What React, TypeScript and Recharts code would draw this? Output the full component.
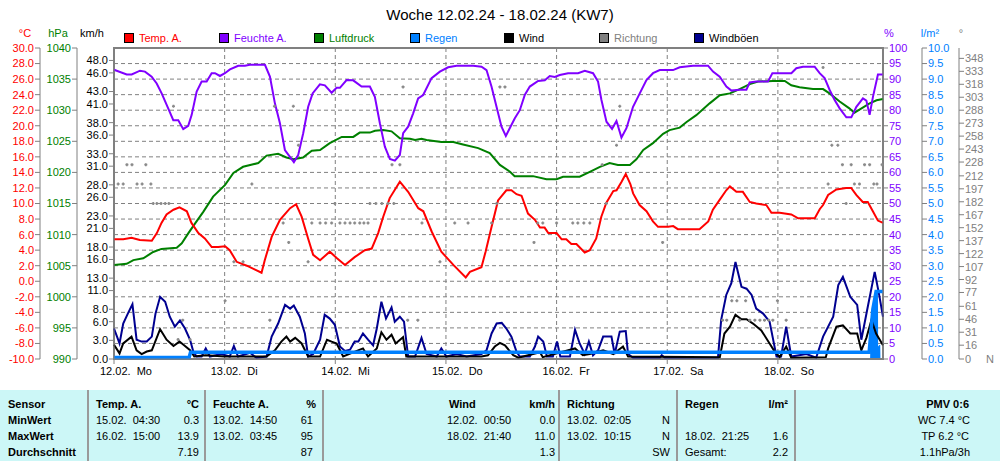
import React from 'react';
import {
  ComposedChart,
  Line,
  Area,
  Scatter,
  XAxis,
  YAxis,
  CartesianGrid,
  ReferenceArea
} from 'recharts';

const FONT = '"Liberation Sans", Arial, sans-serif';
const GRID = '#808080';
const RED = '#ff0000';
const PURPLE = '#8000ff';
const GREEN = '#008000';
const BLUE = '#0080ff';
const NAVY = '#000090';
const GRAY = '#808080';

// x axis: hours since 12.02. 00:00
const dayTicks = [0, 24, 48, 72, 96, 120, 144];
const dayLabels = ['12.02.  Mo', '13.02.  Di', '14.02.  Mi', '15.02.  Do', '16.02.  Fr', '17.02.  Sa', '18.02.  So'];

const tempTicks = [-10, -8, -6, -4, -2, 0, 2, 4, 6, 8, 10, 12, 14, 16, 18, 20, 22, 24, 26, 28, 30];
const presTicks = [990, 995, 1000, 1005, 1010, 1015, 1020, 1025, 1030, 1035, 1040];
const windTicks = [0, 3, 6, 8, 11, 13, 16, 18, 21, 23, 26, 28, 31, 33, 36, 38, 41, 43, 46, 48];
const humTicks = [0, 5, 10, 15, 20, 25, 30, 35, 40, 45, 50, 55, 60, 65, 70, 75, 80, 85, 90, 95, 100];
const rainTicks = [0, 0.5, 1, 1.5, 2, 2.5, 3, 3.5, 4, 4.5, 5, 5.5, 6, 6.5, 7, 7.5, 8, 8.5, 9, 9.5, 10];
const dirTicks = [0, 16, 31, 46, 61, 77, 92, 107, 122, 137, 152, 167, 182, 197, 212, 228, 243, 258, 273, 288, 303, 318, 333, 348];

// Temp. A. (°C)
const tempHours = [0, 2.0, 3.8, 5.6, 8.2, 9.3, 10.3, 11.4, 12.9, 14.2, 15.8, 16.8, 18.3, 19.7, 21.2, 22.6, 24.1, 25.1, 26.6, 28.8, 30.6, 32.0, 32.7, 34.2, 36.0, 38.2, 39.5, 40.7, 42.1, 43.2, 44.7, 46.8, 48.3, 50.1, 52.2, 54.4, 55.9, 57.3, 58.4, 59.8, 62.0, 63.8, 66.0, 67.1, 68.9, 71.0, 73.6, 76.3, 77.2, 79.7, 80.6, 81.9, 83.3, 85.1, 86.2, 87.3, 88.4, 89.8, 91.3, 92.4, 93.4, 94.2, 96.0, 97.1, 98.1, 99.2, 100.3, 102.1, 103.2, 104.6, 105.7, 106.8, 108.3, 109.0, 110.1, 111.0, 112.0, 112.6, 114.0, 115.5, 116.9, 118.0, 120.2, 121.3, 122.3, 124.5, 127.0, 128.9, 129.9, 131.4, 132.8, 133.6, 135.0, 136.4, 137.9, 139.3, 141.5, 142.6, 144.4, 146.9, 148.4, 152.0, 153.1, 153.8, 154.9, 156.7, 158.8, 159.9, 161.0, 162.4, 163.5, 164.6, 165.7, 166.8];
const tempValues = [5.4, 5.4, 5.6, 5.3, 5.2, 6.2, 7.5, 8.6, 9.2, 9.5, 9.0, 7.5, 6.2, 5.5, 4.4, 4.4, 4.5, 4.0, 2.5, 2.0, 1.5, 1.1, 2.7, 5.7, 7.9, 9.4, 9.9, 8.3, 5.5, 3.4, 2.7, 3.8, 3.0, 2.1, 3.1, 4.0, 4.2, 6.2, 8.3, 10.7, 12.8, 11.5, 9.4, 9.0, 6.4, 3.8, 2.1, 0.5, 1.2, 1.8, 3.8, 7.0, 10.4, 11.7, 11.7, 11.2, 11.0, 8.7, 7.9, 6.9, 6.9, 6.2, 6.2, 5.4, 5.4, 4.8, 4.8, 3.7, 4.0, 5.5, 8.3, 10.1, 11.6, 11.7, 12.8, 13.8, 12.5, 11.3, 9.8, 9.0, 7.7, 7.0, 7.0, 7.1, 6.7, 6.7, 6.7, 7.7, 9.2, 10.5, 11.7, 12.2, 11.5, 11.5, 10.2, 10.0, 9.8, 8.8, 8.8, 8.6, 8.1, 8.1, 9.3, 9.8, 11.1, 11.8, 12.0, 12.0, 11.1, 10.2, 10.2, 9.0, 7.8, 7.5];

// Feuchte A. (%)
const humHours = [0, 2.75, 3.84, 5.64, 6.72, 8.17, 9.26, 10.34, 11.92, 12.86, 13.94, 15.02, 16.1, 16.85, 17.93, 19.01, 20.1, 21.18, 21.9, 22.98, 24.06, 25.15, 26.95, 28.4, 29.48, 32.74, 33.82, 34.9, 35.99, 37.07, 38.16, 39.02, 39.96, 41.04, 42.12, 43.08, 44.66, 45.74, 47.2, 48.28, 49.0, 50.45, 51.88, 53.7, 55.5, 56.58, 57.67, 58.75, 59.84, 60.92, 62.0, 62.72, 63.8, 64.89, 65.97, 67.06, 68.88, 70.68, 72.48, 74.3, 77.9, 79.72, 80.8, 81.88, 82.97, 84.05, 84.99, 86.0, 86.94, 88.02, 89.1, 90.19, 91.99, 93.44, 94.52, 95.61, 96.69, 98.49, 100.66, 102.11, 103.91, 104.99, 105.73, 106.82, 108.03, 108.99, 110.07, 111.15, 112.58, 114.04, 115.49, 116.92, 118.37, 121.26, 122.71, 125.59, 128.84, 129.93, 131.38, 132.83, 133.92, 135.72, 137.17, 137.88, 139.33, 141.85, 142.8, 146.92, 148.0, 149.44, 151.97, 153.06, 154.14, 155.23, 156.31, 157.4, 158.85, 159.93, 161.02, 162.45, 163.19, 163.9, 164.62, 165.7, 166.8];
const humValues = [93, 91.5, 91.5, 92.7, 92.4, 90.8, 88.6, 85.4, 80, 76.8, 76.8, 73.9, 75, 78.5, 86, 89.2, 89.2, 91.9, 91.9, 91, 91.9, 93.1, 94.3, 94.3, 94.6, 94.6, 90.8, 82.2, 75.8, 67.2, 65, 63.3, 65.6, 72.6, 81.1, 85.4, 88.3, 88, 85.6, 87.2, 87.2, 89.7, 89.6, 87.6, 87.6, 84.3, 75.8, 68.3, 64.3, 63.8, 65.6, 72.6, 74.7, 79, 83.8, 84.9, 90.3, 92.4, 93.8, 94.3, 94.3, 94, 92.9, 87.6, 81.1, 74.7, 71.7, 74.7, 77.4, 80, 84.9, 87.6, 89.4, 89.6, 91, 90.7, 91.3, 91.9, 91.9, 92.7, 91.9, 89.2, 83.3, 76.3, 74, 76.5, 71.2, 74.2, 81.1, 85.4, 89.7, 91.9, 92.9, 92.9, 93.8, 94.3, 94.3, 92.4, 90.8, 87.6, 86.3, 86.6, 86.6, 88.9, 89.2, 89.2, 91.9, 91.9, 93.5, 94, 94, 91.9, 90.3, 86.5, 83.3, 80.6, 77.7, 77.7, 81.1, 83.8, 83.1, 78.5, 84.3, 91.5, 91.5];

// Luftdruck (hPa)
const presHours = [0, 2.75, 4.2, 6.35, 8.5, 10.3, 13.6, 14.7, 16.1, 17.6, 19.4, 21.5, 24.1, 25.9, 28.0, 30.2, 31.3, 33.1, 35.6, 37.4, 38.9, 41.0, 42.9, 44.7, 46.8, 49.4, 51.9, 53.3, 55.5, 56.6, 58.4, 60.2, 62.0, 64.2, 65.3, 66.7, 67.8, 71.0, 73.6, 75.7, 79.0, 81.5, 83.7, 85.9, 86.9, 89.1, 90.9, 93.8, 96.0, 97.4, 101.0, 103.2, 105.4, 107.5, 109.3, 111.9, 113.3, 114.8, 116.9, 119.1, 120.5, 122.7, 124.2, 126.3, 129.2, 131.4, 133.6, 135.7, 137.9, 139.7, 142.9, 145.5, 146.9, 148.7, 151.6, 153.8, 155.2, 157.4, 159.5, 160.6, 161.7, 163.9, 165.4, 166.8];
const presValues = [1005.1, 1005.3, 1005.9, 1006.2, 1007.2, 1007.7, 1007.9, 1008.6, 1010.2, 1011.8, 1013.7, 1016.1, 1018.0, 1019.9, 1020.9, 1021.3, 1021.5, 1022.7, 1023.0, 1022.4, 1022.1, 1022.4, 1023.5, 1023.6, 1024.7, 1025.7, 1025.7, 1026.4, 1026.4, 1026.7, 1026.8, 1026.6, 1025.5, 1025.4, 1025.2, 1025.4, 1025.2, 1024.9, 1024.9, 1024.5, 1023.9, 1023.1, 1021.2, 1020.1, 1019.4, 1019.4, 1019.4, 1018.9, 1018.9, 1019.3, 1019.3, 1020.1, 1020.9, 1021.5, 1021.2, 1021.2, 1022.1, 1023.6, 1024.7, 1026.2, 1026.8, 1027.2, 1028.1, 1029.2, 1031.1, 1032.4, 1032.7, 1033.4, 1034.2, 1034.6, 1034.7, 1034.7, 1034.0, 1033.7, 1033.4, 1033.4, 1032.7, 1031.4, 1030.3, 1029.6, 1030.1, 1031.1, 1031.6, 1031.8];

// Windböen (km/h)
const gustHours = [0, 1.2, 2.0, 3.0, 4.0, 4.9, 6.0, 7.1, 8.2, 9.0, 10.0, 11.1, 12.1, 13.2, 14.3, 15.4, 16.5, 17.2, 17.9, 19.0, 19.9, 20.8, 23.3, 25.1, 26.0, 26.9, 29.5, 30.9, 33.1, 34.2, 35.6, 37.1, 38.2, 39.0, 40.3, 41.4, 42.1, 43.2, 44.7, 45.7, 46.8, 47.9, 49.0, 50.1, 51.2, 52.2, 53.0, 54.0, 55.1, 56.2, 57.0, 58.0, 59.0, 60.2, 60.9, 62.0, 62.9, 63.8, 65.3, 66.7, 67.8, 70.0, 71.0, 72.1, 74.3, 76.5, 79.7, 80.8, 81.9, 83.0, 84.1, 85.1, 86.2, 87.3, 88.0, 90.2, 91.3, 92.0, 93.1, 93.9, 95.2, 96.1, 96.8, 98.9, 100.0, 101.0, 102.1, 103.0, 103.9, 105.0, 106.1, 107.9, 108.6, 109.7, 111.0, 111.5, 112.6, 118.4, 118.8, 119.5, 131.0, 131.7, 132.8, 133.9, 134.8, 136.1, 137.2, 138.3, 139.3, 140.8, 142.2, 143.7, 144.7, 145.8, 146.9, 150.2, 152.3, 153.8, 156.0, 157.1, 158.1, 159.7, 161.2, 162.1, 163.5, 165.0, 165.9, 166.8];
const gustValues = [4.9, 2.5, 5.7, 7.3, 8.8, 3.1, 2.8, 2.8, 3.6, 7.3, 10.0, 9.2, 6.8, 5.2, 6.2, 4.9, 3.1, 1.2, 0.4, 0.4, 1.7, 0.4, 0.8, 0.4, 2.1, 0.4, 1.0, 0.2, 0.4, 3.6, 5.7, 8.7, 8.1, 8.6, 6.8, 4.1, 0.4, 0.8, 3.1, 7.1, 6.5, 5.5, 2.0, 1.3, 1.5, 2.8, 2.8, 4.1, 3.1, 2.2, 4.9, 9.2, 6.5, 8.3, 6.0, 6.8, 6.0, 0.4, 0.4, 3.4, 0.8, 0.4, 1.7, 0.4, 0.8, 0.4, 0.8, 1.4, 4.1, 5.7, 5.8, 4.9, 3.6, 1.2, 0.4, 0.4, 2.0, 3.6, 2.8, 0.4, 0.4, 2.8, 0.4, 0.4, 4.7, 2.5, 0.8, 2.8, 0.6, 1.4, 3.6, 3.6, 0.8, 4.4, 4.5, 0.8, 0.2, 0.2, 0.6, 0.2, 0.2, 6.3, 10.3, 12.2, 15.6, 11.6, 11.3, 10.3, 8.1, 7.3, 6.0, 0.4, 0.4, 5.2, 0.4, 0.8, 0.2, 3.6, 6.8, 11.9, 13.2, 10.0, 8.7, 3.1, 8.4, 14.0, 10.6, 6.8];

// Wind (km/h)
const windHours = [0, 1.2, 2.0, 3.8, 4.9, 6.0, 7.1, 8.2, 10.0, 11.4, 12.9, 14.2, 15.4, 16.5, 17.4, 19.9, 24.0, 33.1, 34.9, 36.3, 37.4, 38.2, 39.3, 40.7, 42.1, 44.7, 46.2, 47.2, 48.3, 49.7, 54.0, 55.1, 57.0, 58.0, 59.1, 60.2, 61.1, 62.7, 63.4, 79.7, 81.1, 82.6, 83.7, 84.8, 86.6, 87.7, 92.4, 93.0, 100.0, 101.7, 103.2, 106.1, 108.3, 110.4, 111.5, 131.4, 132.4, 133.6, 134.8, 136.1, 137.2, 138.6, 140.4, 142.2, 143.3, 144.4, 145.8, 146.9, 154.4, 154.9, 156.7, 158.1, 159.7, 161.2, 162.1, 163.2, 164.3, 165.3, 166.8];
const windValues = [2.3, 0.9, 2.5, 3.6, 1.4, 0.8, 1.2, 1.4, 4.8, 3.1, 2.1, 2.8, 2.1, 1.4, 0.4, 0.6, 0.4, 0.4, 1.4, 2.8, 3.6, 2.8, 3.4, 2.5, 0.4, 0.4, 3.1, 2.8, 2.5, 0.4, 1.7, 0.4, 1.7, 4.3, 3.1, 3.9, 2.5, 3.5, 0.4, 0.4, 0.6, 2.0, 2.6, 2.2, 0.6, 0.2, 1.1, 0.3, 1.7, 0.6, 0.8, 1.4, 0.8, 2.0, 0.4, 0.3, 4.1, 5.2, 7.1, 6.4, 6.4, 5.7, 4.6, 2.5, 1.2, 0.3, 2.0, 0.2, 0.3, 1.7, 5.2, 5.4, 4.1, 4.1, 1.4, 3.4, 6.3, 4.1, 2.2];

// Regen (l/m², summed up) and rain bars at the end
const rainHours = [0, 16.3, 16.6, 163.8, 164.6, 165.3, 166.8];
const rainValues = [0.05, 0.05, 0.22, 0.22, 1.6, 2.17, 2.17];
const rainRateHours = [164.0, 164.1, 164.6, 165.0, 165.2, 165.7, 165.75, 166.0, 166.2, 166.25];
const rainRateValues = [0, 0.7, 1.5, 1.9, 2.16, 2.16, 0.4, 0.45, 0.45, 0];

// Richtung (°)
const dirHours = [0.9, 2.0, 2.8, 3.9, 5.0, 6.1, 6.9, 8.0, 8.5, 9.3, 10.2, 11.1, 11.9, 12.9, 13.9, 14.9, 16.5, 24.1, 26.0, 28.0, 29.9, 33.8, 34.8, 36.7, 37.9, 38.9, 40.0, 42.1, 42.9, 44.7, 45.9, 47.2, 47.9, 49.0, 50.1, 51.2, 52.2, 53.3, 54.2, 55.1, 55.5, 56.8, 58.1, 59.4, 60.7, 60.3, 62.0, 62.7, 63.7, 65.9, 66.8, 70.7, 73.9, 76.8, 81.9, 83.0, 83.7, 84.8, 85.9, 91.1, 91.9, 93.0, 96.0, 99.5, 100.6, 101.9, 103.2, 105.9, 106.8, 109.0, 109.7, 119.0, 132.0, 132.9, 134.0, 135.1, 135.7, 137.0, 137.9, 139.0, 140.1, 141.1, 142.0, 142.9, 143.9, 145.8, 153.8, 154.9, 155.7, 157.0, 158.0, 158.8, 159.9, 160.6, 161.7, 162.8, 163.9, 164.8, 165.5, 166.6];
const dirValues = [202.5, 202.5, 225, 225, 202.5, 202.5, 225, 202.5, 180, 180, 180, 180, 180, 292.5, 22.5, 45, 22.5, 67.5, 112.5, 112.5, 202.5, 45, 292.5, 157.5, 135, 292.5, 247.5, 112.5, 157.5, 157.5, 157.5, 157.5, 180, 157.5, 157.5, 157.5, 157.5, 157.5, 157.5, 157.5, 180, 180, 180, 180, 180, 225, 225, 315, 45, 45, 157.5, 112.5, 157.5, 157.5, 157.5, 180, 315, 315, 22.5, 135, 157.5, 157.5, 157.5, 157.5, 157.5, 157.5, 157.5, 225, 180, 247.5, 292.5, 135, 45, 45, 67.5, 67.5, 45, 67.5, 45, 45, 45, 45, 45, 45, 67.5, 45, 337.5, 202.5, 247.5, 247.5, 225, 180, 225, 202.5, 202.5, 225, 225, 202.5, 202.5, 225];

const toPoints = (hours: number[], values: number[]) => hours.map((h, i) => ({ h, v: values[i] }));

const tempData = toPoints(tempHours, tempValues);
const humData = toPoints(humHours, humValues);
const presData = toPoints(presHours, presValues);
const gustData = toPoints(gustHours, gustValues);
const windData = toPoints(windHours, windValues);
const rainData = toPoints(rainHours, rainValues);
const rainRateData = toPoints(rainRateHours, rainRateValues);
const dirData = toPoints(dirHours, dirValues);

const LEGEND = [
  { label: 'Temp. A.', color: RED, text: RED, x: 124 },
  { label: 'Feuchte A.', color: PURPLE, text: PURPLE, x: 219 },
  { label: 'Luftdruck', color: GREEN, text: GREEN, x: 314 },
  { label: 'Regen', color: BLUE, text: BLUE, x: 410 },
  { label: 'Wind', color: '#000000', text: '#000000', x: 504 },
  { label: 'Richtung', color: GRAY, text: GRAY, x: 599 },
  { label: 'Windböen', color: NAVY, text: '#000000', x: 694 }
];

// text cells of the summary table below the chart: [text, x, row, align, bold]
const TABLE: [string, number, number, 'l' | 'r', boolean][] = [
  ['Sensor', 8, 0, 'l', true], ['MinWert', 8, 1, 'l', true], ['MaxWert', 8, 2, 'l', true], ['Durchschnitt', 8, 3, 'l', true],
  ['Temp. A.', 96, 0, 'l', true], ['°C', 199, 0, 'r', true],
  ['15.02.  04:30', 96, 1, 'l', false], ['0.3', 199, 1, 'r', false],
  ['16.02.  15:00', 96, 2, 'l', false], ['13.9', 199, 2, 'r', false],
  ['7.19', 199, 3, 'r', false],
  ['Feuchte A.', 213, 0, 'l', true], ['%', 316, 0, 'r', true],
  ['13.02.  14:50', 213, 1, 'l', false], ['61', 313, 1, 'r', false],
  ['13.02.  03:45', 213, 2, 'l', false], ['95', 313, 2, 'r', false],
  ['87', 313, 3, 'r', false],
  ['Wind', 449, 0, 'l', true], ['km/h', 555, 0, 'r', true],
  ['12.02.  00:50', 447, 1, 'l', false], ['0.0', 555, 1, 'r', false],
  ['18.02.  21:40', 447, 2, 'l', false], ['11.0', 555, 2, 'r', false],
  ['1.3', 555, 3, 'r', false],
  ['Richtung', 567, 0, 'l', true],
  ['13.02.  02:05', 567, 1, 'l', false], ['N', 670, 1, 'r', false],
  ['13.02.  10:15', 567, 2, 'l', false], ['N', 670, 2, 'r', false],
  ['SW', 670, 3, 'r', false],
  ['Regen', 685, 0, 'l', true], ['l/m²', 788, 0, 'r', true],
  ['18.02.  21:25', 685, 2, 'l', false], ['1.6', 788, 2, 'r', false],
  ['Gesamt:', 685, 3, 'l', false], ['2.2', 788, 3, 'r', false],
  ['PMV 0:6', 969, 0, 'r', true], ['WC 7.4 °C', 970, 1, 'r', false],
  ['TP 6.2 °C', 969, 2, 'r', false], ['1.1hPa/3h', 970, 3, 'r', false]
];
const TABLE_ROWS = [404, 420, 436, 452];
const TABLE_LINES = [88, 205, 323, 559, 677, 795];

const DayTick = (props: any) => {
  const { x, y, payload } = props;
  return (
    <text x={x - 14} y={y + 9} fill="#000" fontSize={11} textAnchor="start" style={{ whiteSpace: 'pre' }}>
      {dayLabels[Math.round(payload.value / 24)]}
    </text>
  );
};

const DirTick = (props: any) => {
  const { x, y, payload } = props;
  return (
    <g>
      <text x={x} y={y} dy={4} fill={GRAY} fontSize={11} textAnchor="start">{payload.value}</text>
      {payload.value === 0 && <text x={x + 21} y={y} dy={4} fill={GRAY} fontSize={11}>N</text>}
    </g>
  );
};

const DirMark = (props: any) => {
  const { cx, cy } = props;
  if (cx == null || cy == null) return null;
  return <path d={`M${cx - 1.5},${cy}h3M${cx},${cy - 1.5}v3`} stroke="#8a8a8a" strokeWidth={1.6} />;
};

const axisBase = {
  axisLine: { stroke: GRID },
  tickLine: { stroke: GRID },
  interval: 0 as const,
  type: 'number' as const,
  tickSize: 5
};

// axis ids are ordered so that "a_" sits next to the plot, "c_" furthest out
export default function App() {
  return (
    <div style={{ position: 'absolute', left: 0, top: 0, width: 1000, height: 461, background: '#fff', fontFamily: FONT, overflow: 'hidden' }}>
      <div style={{ position: 'absolute', left: 0, top: 0 }}>
        <ComposedChart width={1000} height={390} margin={{ top: 48, right: 0, bottom: 0, left: 3 }}>
          <CartesianGrid yAxisId="a_hum" stroke={GRID} strokeDasharray="4 3" />
          <XAxis
            dataKey="h"
            type="number"
            domain={[0, 166.8]}
            ticks={dayTicks}
            interval={0}
            height={31}
            tickSize={5}
            axisLine={{ stroke: GRID }}
            tickLine={{ stroke: GRID }}
            tick={<DayTick />}
          />
          <YAxis {...axisBase} yAxisId="a_wind" orientation="left" width={37} domain={[0, 50]} ticks={windTicks}
            tickMargin={1} tick={{ fill: '#000', fontSize: 11 }} tickFormatter={(v: number) => v.toFixed(1)} />
          <YAxis {...axisBase} yAxisId="b_pres" orientation="left" width={37} domain={[990, 1040]} ticks={presTicks}
            tickMargin={1} tick={{ fill: GREEN, fontSize: 11 }} />
          <YAxis {...axisBase} yAxisId="c_temp" orientation="left" width={37} domain={[-10, 30]} ticks={tempTicks}
            tickMargin={1} tick={{ fill: RED, fontSize: 11 }} tickFormatter={(v: number) => v.toFixed(1)} />
          <YAxis {...axisBase} yAxisId="a_hum" orientation="right" width={39} domain={[0, 100]} ticks={humTicks}
            tickMargin={1} tick={{ fill: PURPLE, fontSize: 11 }} />
          <YAxis {...axisBase} yAxisId="b_rain" orientation="right" width={37} domain={[0, 10]} ticks={rainTicks}
            tickMargin={1} tick={{ fill: BLUE, fontSize: 11 }} tickFormatter={(v: number) => v.toFixed(1)} />
          <YAxis {...axisBase} yAxisId="c_dir" orientation="right" width={41} domain={[0, 360]} ticks={dirTicks}
            tickMargin={1} tick={<DirTick />} />

          <Scatter yAxisId="c_dir" data={dirData} dataKey="v" shape={<DirMark />} isAnimationActive={false} />
          <Area yAxisId="b_rain" data={rainRateData} dataKey="v" type="linear" stroke="none" fill={BLUE} fillOpacity={1} isAnimationActive={false} />
          <Line yAxisId="b_pres" data={presData} dataKey="v" type="linear" stroke={GREEN} strokeWidth={2} dot={false} isAnimationActive={false} />
          <Line yAxisId="a_hum" data={humData} dataKey="v" type="linear" stroke={PURPLE} strokeWidth={2} dot={false} isAnimationActive={false} />
          <Line yAxisId="c_temp" data={tempData} dataKey="v" type="linear" stroke={RED} strokeWidth={2} dot={false} isAnimationActive={false} />
          <Line yAxisId="a_wind" data={gustData} dataKey="v" type="linear" stroke={NAVY} strokeWidth={2} dot={false} isAnimationActive={false} />
          <Line yAxisId="a_wind" data={windData} dataKey="v" type="linear" stroke="#000" strokeWidth={2} dot={false} isAnimationActive={false} />
          <Line yAxisId="b_rain" data={rainData} dataKey="v" type="linear" stroke={BLUE} strokeWidth={3.5} dot={false} isAnimationActive={false} />
          <ReferenceArea yAxisId="a_hum" x1={0} x2={166.8} y1={0} y2={100} fill="none" stroke={GRID} strokeWidth={2} />
        </ComposedChart>
      </div>

      <div style={{ position: 'absolute', left: 0, top: 6, width: 1000, textAlign: 'center', fontSize: 15, lineHeight: '18px' }}>
        Woche 12.02.24 - 18.02.24 (KW7)
      </div>

      {[
        { t: '°C', c: RED, x: 25 },
        { t: 'hPa', c: GREEN, x: 58 },
        { t: 'km/h', c: '#000', x: 92 },
        { t: '%', c: PURPLE, x: 889 },
        { t: 'l/m²', c: BLUE, x: 930 },
        { t: '°', c: GRAY, x: 961 }
      ].map(u => (
        <div key={u.t} style={{ position: 'absolute', left: u.x - 30, width: 60, top: 26, textAlign: 'center', fontSize: 11, lineHeight: '14px', color: u.c }}>
          {u.t}
        </div>
      ))}

      {LEGEND.map(item => (
        <div key={item.label} style={{ position: 'absolute', left: item.x, top: 31, height: 14, display: 'flex', alignItems: 'center', fontSize: 11 }}>
          <div style={{ width: 8, height: 8, background: item.color, border: '1px solid #000' }} />
          <span style={{ marginLeft: 5, color: item.text }}>{item.label}</span>
        </div>
      ))}

      <div style={{ position: 'absolute', left: 0, top: 390, width: 1000, height: 71, background: '#ccf7f7' }} />
      {TABLE_LINES.map(x => (
        <div key={x} style={{ position: 'absolute', left: x - 1, top: 390, width: 2, height: 71, background: '#9a9a9a' }} />
      ))}
      {TABLE.map(([text, x, row, align, bold], i) => (
        <div
          key={i}
          style={{
            position: 'absolute',
            top: TABLE_ROWS[row] - 7,
            lineHeight: '14px',
            fontSize: 11,
            fontWeight: bold ? 700 : 400,
            whiteSpace: 'pre',
            ...(align === 'l' ? { left: x } : { right: 1000 - x })
          }}
        >
          {text}
        </div>
      ))}
    </div>
  );
}
